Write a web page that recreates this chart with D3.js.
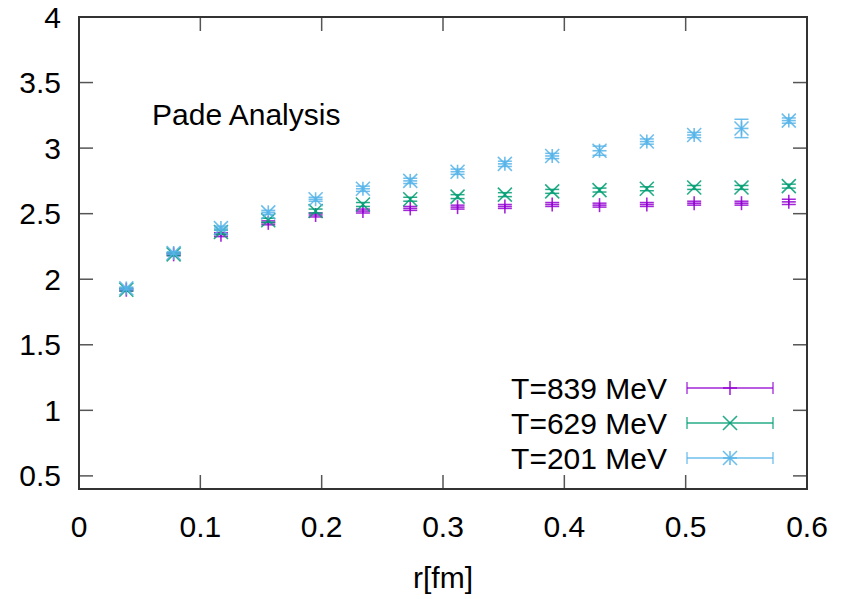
<!DOCTYPE html>
<html>
<head>
<meta charset="utf-8">
<script src="https://cdn.jsdelivr.net/npm/d3@7"></script>
<style>
  body { margin: 0; background: #fff; }
  svg text { font-family: "Liberation Sans", Arial, sans-serif; fill: #000; }
</style>
</head>
<body>
<div id="chart"></div>
<script>
// r = n * 0.039 fm, n = 1..15
const radii = d3.range(1, 16).map(n => +(n * 0.039).toFixed(3));

const series839 = [1.92, 2.19, 2.34, 2.43, 2.49, 2.52, 2.54, 2.55, 2.555, 2.57, 2.565, 2.57, 2.58, 2.58, 2.59];
const err839    = [0.01, 0.01, 0.015, 0.015, 0.015, 0.015, 0.015, 0.015, 0.015, 0.015, 0.015, 0.015, 0.015, 0.015, 0.02];
const series629 = [1.92, 2.19, 2.36, 2.45, 2.52, 2.57, 2.61, 2.63, 2.645, 2.67, 2.68, 2.69, 2.70, 2.70, 2.71];
const err629    = [0.01, 0.01, 0.015, 0.015, 0.015, 0.015, 0.015, 0.015, 0.015, 0.015, 0.015, 0.015, 0.015, 0.015, 0.015];
const series201 = [1.93, 2.20, 2.39, 2.51, 2.61, 2.69, 2.75, 2.82, 2.88, 2.94, 2.98, 3.05, 3.10, 3.15, 3.21];
const err201    = [0.01, 0.01, 0.015, 0.015, 0.015, 0.02, 0.02, 0.02, 0.02, 0.02, 0.035, 0.02, 0.02, 0.07, 0.02];

const xTicks = [0, 0.1, 0.2, 0.3, 0.4, 0.5, 0.6];
const yTicks = [0.5, 1, 1.5, 2, 2.5, 3, 3.5, 4];

const seriesList = [
  { label: 'T=839 MeV', values: series839, errors: err839, color: '#9400d3', glyph: 'plus'  },
  { label: 'T=629 MeV', values: series629, errors: err629, color: '#009e73', glyph: 'cross' },
  { label: 'T=201 MeV', values: series201, errors: err201, color: '#56b4e9', glyph: 'star'  },
];

const W = 852, H = 599;
const margin = { top: 17, right: 45, bottom: 110, left: 79 };
const iw = W - margin.left - margin.right;
const ih = H - margin.top - margin.bottom;
const fontSize = '30px';

const svg = d3.select('#chart').append('svg').attr('width', W).attr('height', H);
const g = svg.append('g').attr('transform', `translate(${margin.left},${margin.top})`);

const x = d3.scaleLinear().domain([0, 0.6]).range([0, iw]);
const y = d3.scaleLinear().domain([0.4, 4]).range([ih, 0]);

const tickLen = 14;
const tickColor = '#555';

// ticks, mirrored on all four sides and pointing inward
xTicks.forEach(v => {
  const px = x(v);
  g.append('line').attr('x1', px).attr('x2', px).attr('y1', ih).attr('y2', ih - tickLen)
    .attr('stroke', tickColor).attr('stroke-width', 1.5);
  g.append('line').attr('x1', px).attr('x2', px).attr('y1', 0).attr('y2', tickLen)
    .attr('stroke', tickColor).attr('stroke-width', 1.5);
  g.append('text').attr('x', px).attr('y', ih + 48).attr('text-anchor', 'middle')
    .style('font-size', fontSize).text(v);
});
yTicks.forEach(v => {
  const py = y(v);
  g.append('line').attr('x1', 0).attr('x2', tickLen).attr('y1', py).attr('y2', py)
    .attr('stroke', tickColor).attr('stroke-width', 1.5);
  g.append('line').attr('x1', iw).attr('x2', iw - tickLen).attr('y1', py).attr('y2', py)
    .attr('stroke', tickColor).attr('stroke-width', 1.5);
  g.append('text').attr('x', -18).attr('y', py).attr('dy', '0.35em').attr('text-anchor', 'end')
    .style('font-size', fontSize).text(v);
});

g.append('rect').attr('width', iw).attr('height', ih)
  .attr('fill', 'none').attr('stroke', '#333').attr('stroke-width', 2);

g.append('text').attr('x', iw / 2).attr('y', ih + 99).attr('text-anchor', 'middle')
  .style('font-size', fontSize).text('r[fm]');

g.append('text').attr('x', 73).attr('y', 108)
  .style('font-size', fontSize).text('Pade Analysis');

const S = 7; // glyph half-size

function drawGlyph(sel, kind, cx, cy, color) {
  const segs = [];
  if (kind === 'plus' || kind === 'star') {
    segs.push([cx - S, cy, cx + S, cy], [cx, cy - S, cx, cy + S]);
  }
  if (kind === 'cross' || kind === 'star') {
    segs.push([cx - S, cy - S, cx + S, cy + S], [cx - S, cy + S, cx + S, cy - S]);
  }
  segs.forEach(s => sel.append('line')
    .attr('x1', s[0]).attr('y1', s[1]).attr('x2', s[2]).attr('y2', s[3])
    .attr('stroke', color).attr('stroke-width', 1.6).attr('opacity', 0.85));
}

seriesList.forEach(s => {
  const sg = g.append('g');
  s.values.forEach((v, i) => {
    const cx = x(radii[i]);
    const cy = y(v);
    const yt = y(v + s.errors[i]);
    const yb = y(v - s.errors[i]);
    sg.append('line').attr('x1', cx).attr('x2', cx).attr('y1', yt).attr('y2', yb)
      .attr('stroke', s.color).attr('stroke-width', 1.5).attr('opacity', 0.85);
    [yt, yb].forEach(yy => sg.append('line')
      .attr('x1', cx - S).attr('x2', cx + S).attr('y1', yy).attr('y2', yy)
      .attr('stroke', s.color).attr('stroke-width', 1.5).attr('opacity', 0.85));
    drawGlyph(sg, s.glyph, cx, cy, s.color);
  });
});

// legend
const legX1 = 687 - margin.left, legX2 = 773 - margin.left, legMid = 730 - margin.left;
seriesList.forEach((s, i) => {
  const ly = 388 - margin.top + i * 35;
  g.append('text').attr('x', 667 - margin.left).attr('y', ly).attr('dy', '0.35em')
    .attr('text-anchor', 'end').style('font-size', fontSize).text(s.label);
  g.append('line').attr('x1', legX1).attr('x2', legX2).attr('y1', ly).attr('y2', ly)
    .attr('stroke', s.color).attr('stroke-width', 1.3).attr('opacity', 0.85);
  [legX1, legX2].forEach(lx => g.append('line')
    .attr('x1', lx).attr('x2', lx).attr('y1', ly - 6).attr('y2', ly + 6)
    .attr('stroke', s.color).attr('stroke-width', 1.3).attr('opacity', 0.85));
  drawGlyph(g, s.glyph, legMid, ly, s.color);
});
</script>
</body>
</html>
